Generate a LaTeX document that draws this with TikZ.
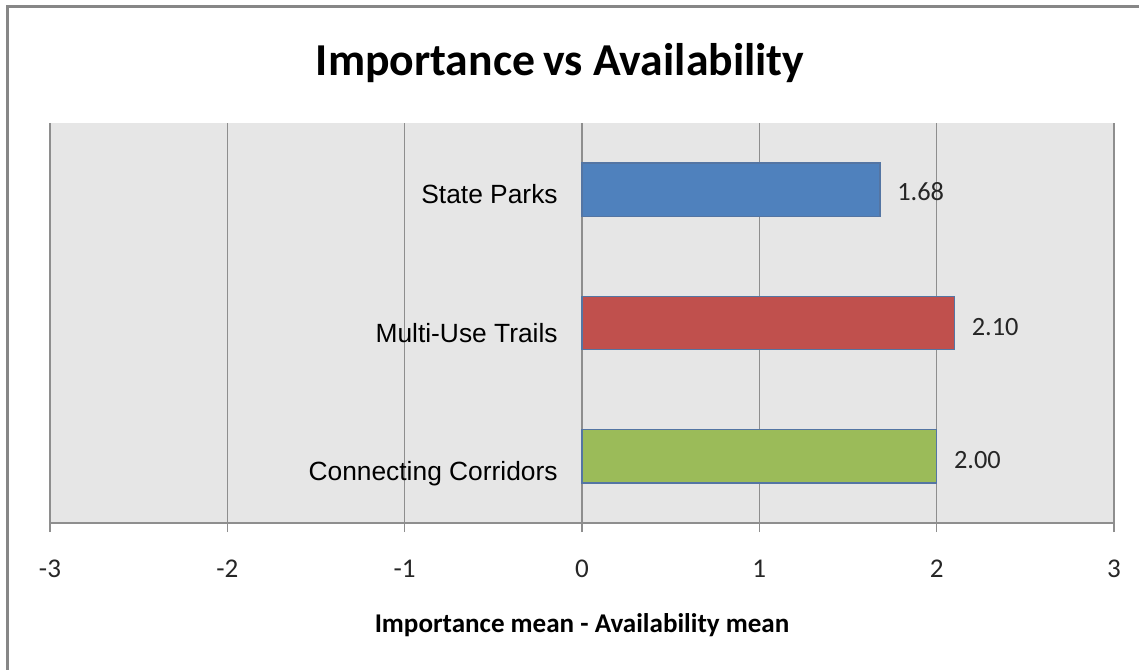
\documentclass[tikz,border=0pt]{standalone}
\usepackage{fontspec}
\setmainfont{Carlito}
\newfontfamily\arialfont{Liberation Sans}
\usetikzlibrary{positioning}

\definecolor{parkblue}{HTML}{4F81BD}
\definecolor{trailred}{HTML}{C0504D}
\definecolor{corrgreen}{HTML}{9BBB59}
\definecolor{baredge}{HTML}{5475A3}
\definecolor{plotbg}{HTML}{E6E6E6}
\definecolor{gridgray}{HTML}{8E8E8E}
\definecolor{framegray}{HTML}{878787}

\tikzset{
	bar/.style={draw=baredge, line width=0.8pt},
	catlabel/.style={anchor=base east, inner sep=0pt, font=\arialfont\fontsize{15}{18}\selectfont},
	vallabel/.style={anchor=base west, inner sep=0pt, font=\fontsize{15}{18}\selectfont, text=black!85},
	ticklabel/.style={anchor=base, inner sep=0pt, font=\fontsize{15.4}{18}\selectfont, text=black!85}
}

\begin{document}
\begin{tikzpicture}

\def\ux{3.5467}

%Frame
\path[use as bounding box, clip] (-11.64,-2.92) rectangle (11.14,10.46);
\draw[framegray, line width=0.06cm] (-11.48,10.34) rectangle (11.6,-3.2);

%Plot area
\fill[plotbg] (-3*\ux,0) rectangle (3*\ux,8);

%Grid
\foreach \i in {-3,-2,...,3}
{
	\draw[gridgray, line width=0.8pt] (\i*\ux,-0.18) -- (\i*\ux,8);
	\node[ticklabel] (tick\i) at (\i*\ux,-1.08) {\i};
}

%Axis
\draw[gridgray, line width=0.9pt] (-3*\ux,0) -- (3*\ux,0);

%Bars
\foreach \nm/\val/\col/\yc/\ylab/\yval in {park/1.68/parkblue/6.667/6.40/6.46, trail/2.10/trailred/4.0/3.62/3.76, corr/2.00/corrgreen/1.333/0.86/1.10}
{
	\fill[\col] (0,\yc-0.533) rectangle (\val*\ux,\yc+0.533);
	\draw[bar] (0,\yc-0.533) rectangle (\val*\ux,\yc+0.533);
	\coordinate (\nm-end) at (\val*\ux,\yval);
	\node[vallabel, right=0.34cm of \nm-end, anchor=base west] (\nm-val) {\val};
}

% Nodes

\node[catlabel] (park-lab) at (-0.48,6.40) {State Parks};
\node[catlabel] (trail-lab) at (-0.48,3.62) {Multi-Use Trails};
\node[catlabel] (corr-lab) at (-0.48,0.86) {Connecting Corridors};

\node[anchor=base, inner sep=0pt, font=\bfseries\fontsize{26}{31}\selectfont] (title) at (-0.44,8.96) {Importance\hspace{0.18em}vs Availability};
\node[anchor=base, inner sep=0pt, font=\bfseries\fontsize{15.4}{18}\selectfont] (xtitle) at (0,-2.18) {Importance mean - Availability mean};

\end{tikzpicture}
\end{document}
